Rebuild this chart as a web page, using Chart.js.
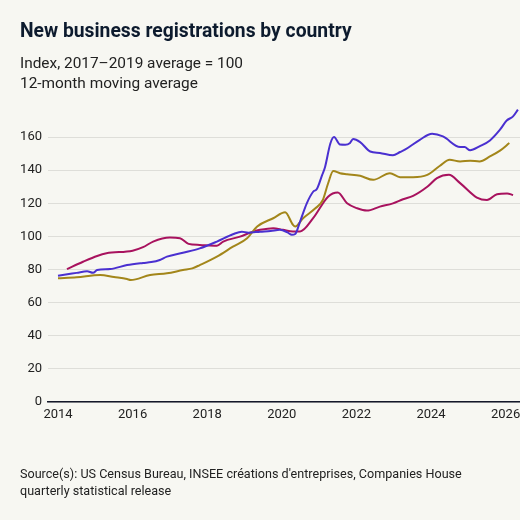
<!DOCTYPE html>
<html>
<head>
<meta charset="utf-8">
<script src="https://cdn.jsdelivr.net/npm/chart.js@4.4.1/dist/chart.umd.min.js"></script>
<style>
  html, body { margin: 0; padding: 0; background: #f7f7f2; }
  #wrap { position: relative; width: 520px; height: 520px; background: #f7f7f2; overflow: hidden; font-family: Roboto, "Noto Sans", sans-serif; }
  #c { position: absolute; left: 0; top: 0; }
  .title { position: absolute; left: 20px; top: 19px; font-size: 19.3px; font-weight: 700; color: #0d1b2e; white-space: nowrap; }
  .sub { position: absolute; left: 20px; top: 53px; font-size: 15.4px; line-height: 20px; color: #222; white-space: nowrap; }
  .src { position: absolute; left: 20px; top: 465px; font-size: 12.6px; line-height: 17px; color: #222; white-space: nowrap; }
</style>
</head>
<body>
<div id="wrap">
  <canvas id="c" width="520" height="520"></canvas>
  <div class="title">New business registrations by country</div>
  <div class="sub">Index, 2017–2019 average = 100<br>12-month moving average</div>
  <div class="src">Source(s): US Census Bureau, INSEE créations d'entreprises, Companies House<br>quarterly statistical release</div>
</div>
<script>
const seriesNames = ["United States", "France", "United Kingdom"];

const usX = [2014.0, 2014.25, 2014.5, 2014.78, 2014.94, 2015.05, 2015.4, 2015.85, 2016.28, 2016.5, 2016.73, 2016.92, 2017.35, 2017.8, 2018.26, 2018.69, 2018.93, 2019.1, 2019.42, 2019.7, 2019.95, 2020.15, 2020.27, 2020.36, 2020.49, 2020.67, 2020.84, 2020.94, 2021.08, 2021.16, 2021.3, 2021.4, 2021.56, 2021.7, 2021.83, 2021.91, 2022.1, 2022.37, 2022.63, 2022.98, 2023.17, 2023.3, 2023.7, 2024.03, 2024.32, 2024.78, 2024.9, 2025.05, 2025.3, 2025.58, 2025.85, 2026.03, 2026.2, 2026.33];
const usY = [76.3, 77.2, 78, 79, 78, 79.7, 80.3, 82.7, 84, 84.5, 85.8, 87.8, 90.2, 92.8, 96.9, 101.3, 102.9, 102.3, 102.9, 103.3, 104, 102.5, 101, 101.5, 109, 120, 127, 128.6, 137, 142, 156, 160, 155.5, 155.4, 156.5, 158.8, 157, 151.3, 150.4, 149, 151, 152.4, 158.4, 162, 160.4, 154, 154, 152, 154.4, 158, 164.5, 170, 172.5, 176.6];

const frX = [2014.0, 2014.5, 2015.13, 2015.5, 2015.85, 2015.95, 2016.47, 2016.92, 2017.35, 2017.6, 2017.8, 2018.26, 2018.69, 2019.07, 2019.34, 2019.77, 2020.09, 2020.3, 2020.36, 2020.57, 2020.9, 2021.1, 2021.24, 2021.38, 2021.56, 2021.75, 2022.1, 2022.45, 2022.9, 2023.17, 2023.52, 2023.9, 2024.24, 2024.5, 2024.78, 2025.05, 2025.3, 2025.58, 2025.85, 2026.1];
const frY = [74.7, 75.3, 76.7, 75.5, 74.3, 73.7, 76.7, 77.7, 79.7, 80.7, 82.7, 87.8, 93.8, 98.9, 106, 111, 114.6, 107, 106, 111, 117, 122, 132, 139.5, 138.2, 137.6, 136.6, 134.2, 138.2, 135.8, 135.8, 137.2, 142.7, 146.3, 145.3, 145.7, 145.3, 148.3, 151.8, 156.4];

const ukX = [2014.24, 2014.67, 2015.05, 2015.3, 2016.0, 2016.28, 2016.55, 2017.0, 2017.27, 2017.5, 2017.8, 2018.26, 2018.43, 2018.88, 2019.23, 2019.42, 2019.77, 2020.03, 2020.3, 2020.49, 2020.84, 2021.24, 2021.5, 2021.75, 2022.02, 2022.28, 2022.63, 2022.98, 2023.25, 2023.52, 2023.9, 2024.16, 2024.48, 2024.78, 2025.23, 2025.5, 2025.77, 2026.04, 2026.2];
const ukY = [80.3, 84.7, 88.2, 89.8, 91.4, 93.5, 96.9, 99.3, 98.9, 95.5, 94.9, 94.4, 96.9, 99.9, 102.9, 104, 105, 104, 103, 103, 111, 124, 126.5, 120, 117, 115.6, 118, 120, 122.5, 124.5, 130, 135.2, 137.2, 132.2, 123.5, 122, 125.5, 126, 125];

const xTickYears = [2014, 2016, 2018, 2020, 2022, 2024, 2026];
const yTickValues = [0, 20, 40, 60, 80, 100, 120, 140, 160];

const colors = ["#4a30d0", "#a3861a", "#a8125e"];

function pts(xs, ys) { return xs.map((x, i) => ({ x: x, y: ys[i] })); }

const tickFont = { family: "Roboto, 'Noto Sans', sans-serif", size: 13 };

new Chart(document.getElementById("c"), {
  type: "line",
  data: {
    datasets: [
      { label: seriesNames[0], data: pts(usX, usY), borderColor: colors[0] },
      { label: seriesNames[1], data: pts(frX, frY), borderColor: colors[1] },
      { label: seriesNames[2], data: pts(ukX, ukY), borderColor: colors[2] }
    ].map(d => Object.assign(d, { borderWidth: 2, pointRadius: 0, fill: false, cubicInterpolationMode: "monotone" }))
  },
  options: {
    responsive: false,
    animation: false,
    layout: { padding: { top: 104, bottom: 98, left: 0, right: 0 } },
    plugins: { legend: { display: false }, tooltip: { enabled: false } },
    scales: {
      x: {
        type: "linear",
        min: 2013.732,
        max: 2026.386,
        grid: { display: false, drawTicks: false },
        border: { display: true, color: "#14182a", width: 1.5 },
        ticks: { color: "#222", font: tickFont, padding: 5, maxRotation: 0, callback: v => String(v) },
        afterBuildTicks: s => { s.ticks = xTickYears.map(v => ({ value: v })); },
        afterFit: s => { s.height = 20; s.paddingLeft = 0; s.paddingRight = 0; }
      },
      y: {
        min: 0,
        max: 180,
        grid: { color: "#deded9", lineWidth: 1, drawTicks: false },
        border: { display: false },
        ticks: { color: "#222", font: tickFont, padding: 6 },
        afterBuildTicks: s => { s.ticks = yTickValues.map(v => ({ value: v })); },
        afterFit: s => { s.width = 48; s.paddingTop = 0; s.paddingBottom = 0; }
      }
    }
  }
});
</script>
</body>
</html>
